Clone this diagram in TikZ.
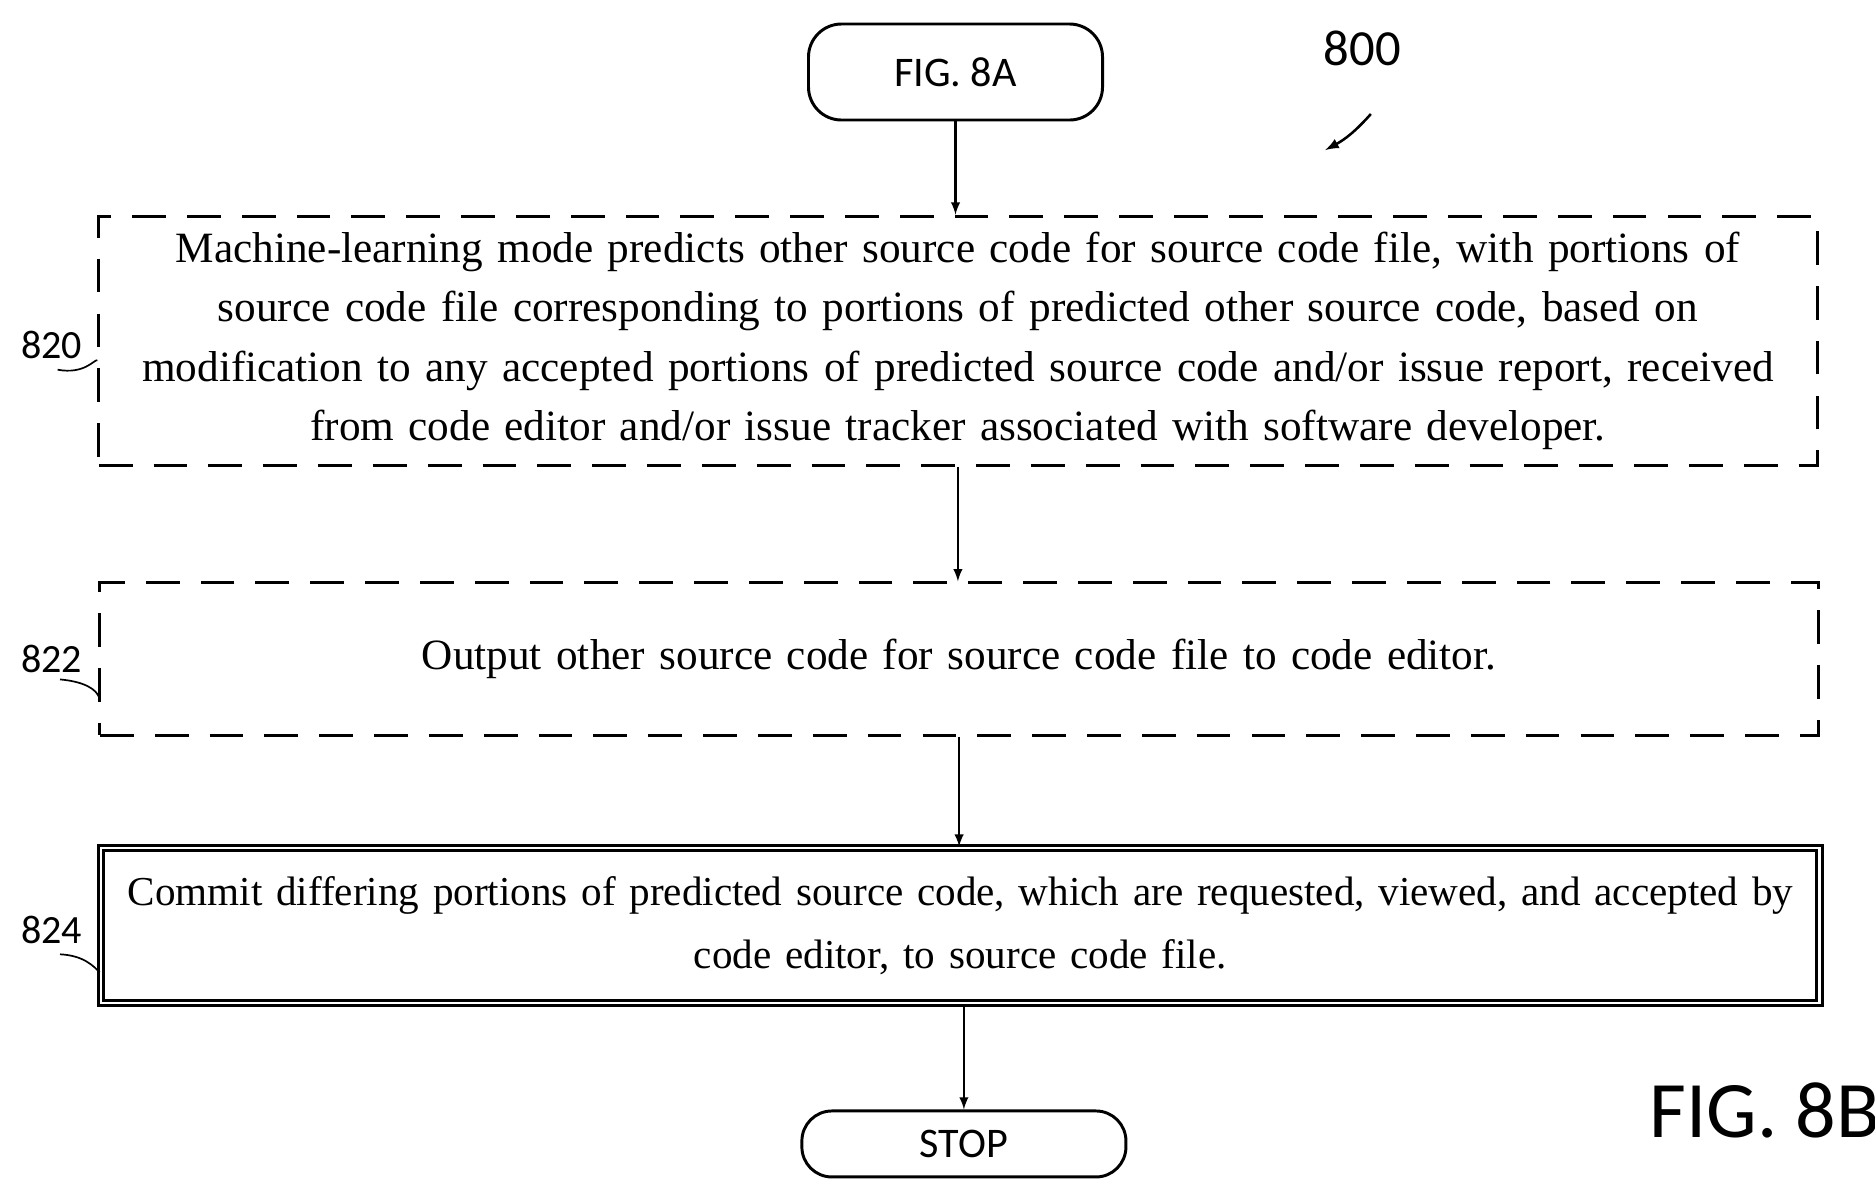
\documentclass[tikz,border=0pt]{standalone}
\usepackage{fontspec}
\setmainfont{Liberation Serif}
\newfontfamily\labelfont{Carlito}
\usetikzlibrary{positioning}
\tikzstyle{terminal} = [rectangle, rounded corners=0.55cm, minimum width=4.9cm, minimum height=1.6cm, text centered, draw=black, line width=1.4pt, font=\labelfont\fontsize{20}{24}\selectfont]
\tikzstyle{dashstep} = [rectangle, minimum width=28.55cm, text centered, draw=black, line width=1.4pt, dash pattern=on 16pt off 10pt, align=center, text width=28.4cm, font=\fontsize{20.5}{28}\selectfont]
\tikzstyle{process} = [rectangle, minimum width=28.55cm, minimum height=2.58cm, text centered, draw=black, line width=1.4pt, double=white, double distance=1.2pt, align=center, text width=28.4cm, font=\fontsize{19.5}{30}\selectfont]
\tikzstyle{reflabel} = [font=\labelfont\fontsize{19}{22}\selectfont]
\tikzstyle{arrow} = [line width=1pt,-latex]

\begin{document}
\begin{tikzpicture}[x=0.02cm, y=-0.02cm]
        \useasboundingbox (0,0) rectangle (1562,996);
        \node (fig_a) [terminal] at (796,60) {FIG. 8A};
        \node (predict) [dashstep, minimum height=4.16cm] at (798,284) {Machine-learning mode predicts other source code for source code file, with portions of\\source code file corresponding to portions of predicted other source code, based on\\modification to any accepted portions of predicted source code and/or issue report, received\\from code editor and/or issue tracker associated with software developer.};
        \node (output) [dashstep, minimum height=2.54cm] at (799,549) {Output other source code for source code file to code editor.};
        \node (commit) [process] at (800,771) {Commit differing portions of predicted source code, which are requested, viewed, and accepted by\\code editor, to source code file.};
        \node (stop) [terminal, minimum width=5.4cm, minimum height=1.1cm, rounded corners=0.5cm] at (803,953) {STOP};

        \draw [arrow] (fig_a) -- (fig_a |- predict.north);
        \draw [arrow] (predict) -- (predict |- output.north);
        \draw [arrow] (output) -- (output |- commit.north);
        \draw [arrow] (commit.south -| stop) -- (stop);

        % reference numerals
        \node (num_800) [reflabel, font=\labelfont\fontsize{24}{28}\selectfont] at (1135,40) {800};
        \coordinate (tip_800) at (1104,125);
        \draw [line width=1.2pt, -latex] (1142,95) to[bend left=10] (tip_800);
        \node (num_820) [reflabel] at (43,287) {820};
        \node (num_822) [reflabel] at (43,549) {822};
        \node (num_824) [reflabel] at (43,775) {824};
        \draw [line width=0.8pt] (48,308) .. controls (70,312) and (78,300) .. (predict.west |- 0,300);
        \draw [line width=0.8pt] (50,566) .. controls (72,568) and (80,575) .. (output.west |- 0,580);
        \draw [line width=0.8pt] (50,795) .. controls (70,796) and (78,805) .. (commit.west |- 0,810);
        \node (fig_b) [font=\labelfont\fontsize{38}{42}\selectfont] at (1470,925) {FIG. 8B};
\end{tikzpicture}
\end{document}
